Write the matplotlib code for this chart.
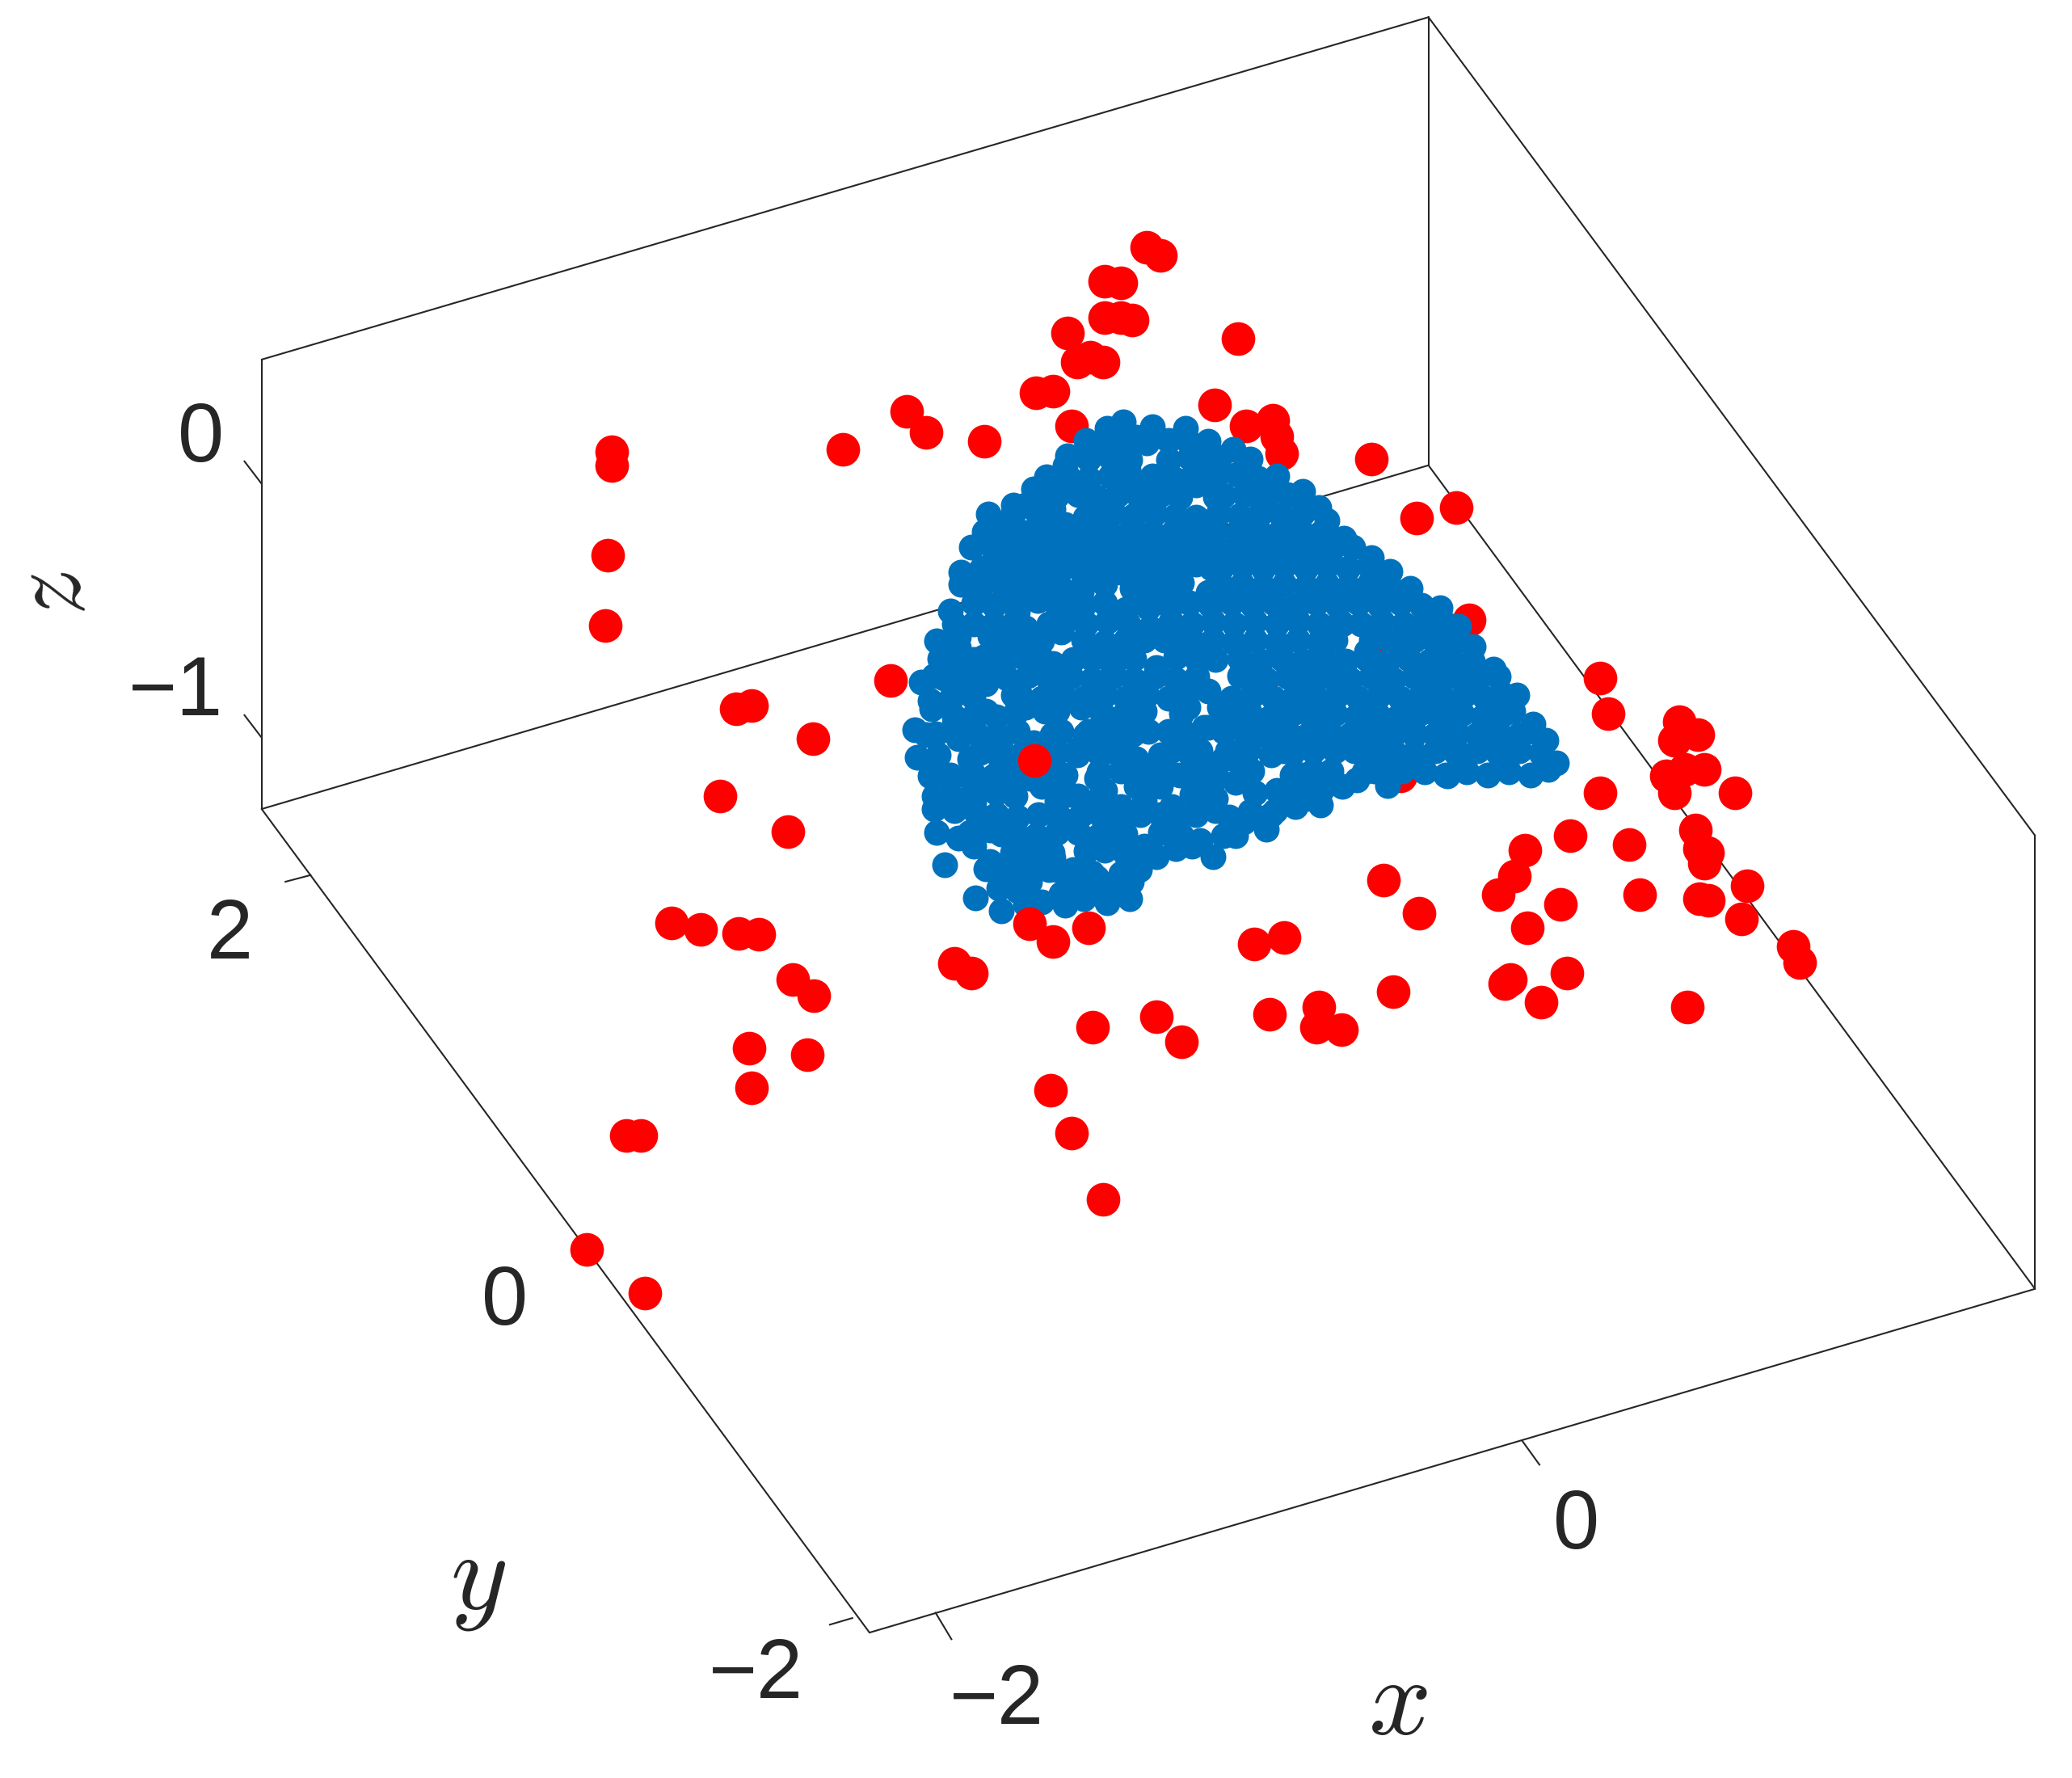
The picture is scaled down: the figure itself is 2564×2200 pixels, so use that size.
import matplotlib
matplotlib.use("Agg")
import matplotlib.pyplot as plt

# Points (projected position in the 1568x1345 view)
red_back = [(868,187),(878,193),(836,213),(848,214),(836,240),(848,240),(857,242),(808,252),(937,256),
 (815,274),(835,274),(825,270),(784,297),(797,296),(686,311),(701,327),(745,334),(638,340),(919,306),
 (811,322),(943,322),(963,318),(966,330),(970,343),(1038,347),(463,342),(463,352),(460,420),(458,473),
 (1072,392),(1102,384),(1112,469),(988,422),(1042,491),(1211,513),(1217,540),(674,515),(557,536),(569,534),
 (615,559),(545,602),(596,629),(980,561),(1060,587),(1271,546),(1285,556),(1267,560),(1261,587),(1275,582),
 (1290,582),(1267,600),(1211,600),(1313,600),(1283,628),(1233,639),(1188,632),(1154,643),(1286,642),
 (1292,645),(1290,653),(1146,663),(1134,677),(1047,666),(1074,691),(1322,670),(1241,677),(1286,680),
 (1293,681),(1181,684),(1156,702),(1318,695),(949,714),(972,709),(508,698),(530,703),(559,706),(574,707),
 (722,729),(735,736),(1357,716),(1362,728),(1186,736),(1143,741),(1139,744),(1054,750),(1166,758),(1277,762),
 (600,741),(616,753),(875,769),(827,777),(894,788),(961,767),(998,762),(996,777),(1015,779),(567,793),
 (611,798),(569,823),(795,825),(811,857),(474,859),(485,859),(835,907),(444,945),(488,978)]
red_front = [(783,575),(779,699),(797,712),(824,702)]

blue_points = [
 (838,324),(850,319),(872,323),(897,324),
 (822,333),(836,335),(853,333),(868,335),(884,333),(900,335),(914,334),
 (808,345),(824,347),(840,346),(855,348),(884,348),(900,346),(916,347),(933,340),(946,347),
 (792,361),(808,360),(824,362),(840,360),(856,362),(872,360),(888,362),(904,360),(920,361),(936,359),(952,362),(966,360),
 (790,372),(800,375),(816,374),(830,376),(846,374),(862,376),(878,374),(893,376),(926,375),(942,374),(958,376),(974,374),(986,372),
 (748,389),(767,382),(785,388),(828,390),(843,388),(858,390),(874,388),(890,390),(922,388),(938,390),(954,388),(970,390),(986,388),(998,384),
 (745,402),(760,400),(776,403),(792,401),(808,406),(824,402),(840,404),(856,401),(872,403),(888,402),(904,403),(920,401),(936,403),(952,401),(968,403),(984,401),(1000,403),(1017,407),
 (735,414),(752,416),(768,414),(784,416),(800,417),(816,415),(832,417),(848,415),(864,417),(880,415),(896,417),(912,415),(928,417),(944,415),(960,417),(976,415),(992,417),(1008,415),(1024,414),(1038,422),
 (727,433),(760,429),(776,428),(792,430),(808,428),(824,430),(840,429),(856,430),(872,428),(888,430),(924,430),(940,428),(956,430),(972,428),(988,430),(1004,428),(1020,430),(1036,428),(1052,432),
 (727,442),(758,441),(770,443),(786,441),(802,443),(820,440),(864,441),(878,443),(894,441),(925,444),(940,442),(956,444),(972,442),(988,444),(1004,442),(1020,444),(1036,442),(1052,444),(1067,445),
 (719,462),(737,456),(752,458),(768,452),(804,456),(820,458),(836,456),(852,461),(868,456),(884,458),(900,456),(916,458),(932,456),(948,458),(964,456),(980,458),(996,456),(1012,458),(1028,456),(1044,458),(1060,456),(1076,458),(1090,460),
 (752,472),(768,470),(806,470),(822,472),(838,470),(854,472),(870,475),(886,470),(902,472),(918,470),(934,472),(950,470),(966,472),(982,470),(998,472),(1014,470),(1030,472),(1046,470),(1062,472),(1078,470),(1094,472),(1104,474),
 (709,485),(725,482),(756,485),(772,483),(788,485),(820,484),(836,486),(852,484),(888,484),(904,486),(918,484),(934,486),(950,484),(966,486),(982,484),(998,486),(1010,484),(1038,484),(1054,486),(1070,484),(1086,486),(1102,484),(1115,489),
 (711,498),(726,500),(744,497),(760,499),(776,497),(790,500),(826,498),(842,500),(858,498),(890,497),(906,499),(938,498),(954,500),(970,498),(986,500),(1002,498),(1018,500),(1034,498),(1050,500),(1066,498),(1082,500),(1098,498),(1114,500),(1130,506),
 (697,516),(714,513),(730,515),(746,511),(762,513),(778,511),(794,514),(810,512),(826,514),(842,512),(858,514),(874,512),(890,514),(906,512),(942,512),(958,514),(974,512),(990,514),(1006,512),(1022,514),(1038,512),(1054,514),(1070,512),(1086,514),(1102,512),(1118,514),(1134,512),(1148,526),
 (704,530),(720,528),(736,527),(772,526),(788,528),(804,526),(820,528),(836,526),(852,528),(868,526),(884,528),(898,526),(932,528),(948,526),(964,528),(980,526),(996,528),(1012,526),(1028,528),(1044,526),(1060,528),(1076,526),(1092,528),(1108,526),(1124,528),(1138,526),
 (705,536),(722,542),(738,540),(754,542),(768,540),(800,538),(834,540),(850,541),(860,539),(894,540),(930,542),(946,540),(962,542),(978,540),(994,542),(1010,540),(1026,542),(1042,540),(1058,542),(1074,540),(1090,542),(1106,540),(1122,542),(1138,540),(1160,548),
 (692,552),(708,555),(738,554),(754,556),(770,553),(796,556),(836,553),(852,555),(884,553),(898,555),(942,554),(958,556),(974,554),(990,556),(1006,554),(1022,556),(1038,554),(1054,556),(1070,554),(1086,556),(1102,554),(1118,556),(1134,554),(1150,556),(1170,560),
 (694,573),(742,569),(758,567),(774,570),(800,569),(816,567),(832,570),(848,568),(886,568),(900,570),(944,568),(978,570),(994,568),(1038,570),(1054,568),(1070,570),(1086,568),(1102,570),(1118,568),(1134,570),(1150,568),(1166,570),(1178,577),
 (704,587),(720,589),(736,585),(752,587),(768,588),(796,590),(832,584),(866,584),(882,582),(905,584),(920,585),(940,582),(978,586),(994,583),(1032,584),(1048,582),(1078,584),(1094,586),(1110,584),(1126,586),(1142,584),(1158,586),(1172,582),
 (707,602),(722,604),(738,600),(754,600),(768,602),(800,606),(816,602),(832,604),(866,606),(906,606),(920,604),(950,600),(966,598),(982,602),(1000,598),(1016,595),(1027,590),(1050,594),(1095,587),
 (707,612),(738,614),(754,616),(770,618),(786,616),(802,618),(818,616),(834,618),(848,616),(878,616),(892,618),(930,618),(946,614),(962,616),(980,610),(999,609),
 (709,630),(734,630),(768,630),(784,632),(800,630),(816,630),(832,632),(846,630),(878,630),(894,632),(908,636),(926,632),(958,627),
 (766,645),(782,647),(796,645),(822,644),(852,646),(875,648),(890,642),(918,648),(935,632),
 (715,654),(746,657),(762,658),(778,660),(794,658),(812,658),(826,660),(862,658),
 (756,672),(770,674),(812,672),(828,674),(842,672),(856,667),
 (738,679),(758,689),(776,684),(806,685),(820,680),(838,683),(855,680),
 (743,430),(914,550),(848,583),(929,568),(710,571),(785,580),(869,553),(725,559),(878,595),(1010,568),(737,472),(914,523),(962,571),(785,454),(1061,583),(920,499),(824,553),(836,442),(806,586),(749,628),(905,427),
 (701,556),(941,622),(767,388),(917,430),(869,460),(770,463),(938,511),(767,526),(722,547),(926,574),(965,613),(725,634),(902,640),(749,652),(860,331),(806,352),(902,361),(1004,394),(806,397),(749,481),(881,484),(1034,493),(737,499),(707,511),(857,556),(1049,556),(1100,562),(1133,562),(797,571),(719,586),(986,586),(830,589),(920,589),(737,595),(788,595),(809,601),(854,355),(782,370),(920,376),(857,445),(893,454),(980,463),(1016,472),(770,496),(842,505),(1001,511),(1097,511),(899,535),(746,538),(791,538),(866,538),(986,538),(1082,538),(1160,553),(821,556),(953,556),(1070,556),(839,568),(971,568),(776,574),(1040,583),(902,601),(989,604),(737,607),(851,631),(773,643),(797,649),(830,664),(803,676),
 (812,499),(743,442),(794,472),(782,562),(1025,568),(863,616),(905,391),(1007,583),(893,586),(935,592),(908,568),(860,574),(866,640),(836,643),(788,682),(803,553),(860,595),(905,616),(803,478),(926,553),(722,613),(797,385),(914,448),(866,484),(875,505),(818,535),(1145,538),(848,661),(722,472),(923,535),(734,574),(758,577),(947,583),(887,610),(737,640),(878,571),(836,598),(779,667),(923,346),(905,367),(821,391),(776,475),(815,571),(848,610),(920,613),(758,631),(818,448),(797,454),(797,502),(776,535),(776,382),(848,433),(725,490),(746,517),(779,589),(911,550),(911,589),(800,658),(908,571)]

tick_labels_z = ["0", "\u22121"]
tick_labels_y = ["2", "0", "\u22122"]
tick_labels_x = ["\u22122", "0"]

# Box edges and tick marks (projected)
box_edges = [((198,272),(1081,13)),((1081,13),(1540,632)),((1540,632),(1540,975)),((198,272),(198,612)),
             ((198,612),(1081,352)),((1081,13),(1081,352)),((1081,352),(1540,975)),((198,612),(658,1235)),
             ((658,1235),(1540,975))]
tick_marks = [((198,366),(185,349)),((198,558),(185,541)),((235,662),(216,667)),((449,947),(433,950)),
              ((645,1224),(628,1229)),((708,1220),(720,1240)),((1152,1090),(1165,1108))]

INK = "#262626"
plt.rcParams["font.family"] = ["Liberation Sans", "DejaVu Sans"]
plt.rcParams["mathtext.fontset"] = "cm"

fig = plt.figure(figsize=(25.64, 22), dpi=100, facecolor="white")
ax = fig.add_axes([0, 0, 1, 1])
ax.set_xlim(0, 1568)
ax.set_ylim(1345, 0)
ax.axis("off")

for (a, b) in box_edges:
    ax.plot([a[0], b[0]], [a[1], b[1]], color=INK, lw=1.5, solid_capstyle="round", zorder=1)
for (a, b) in tick_marks:
    ax.plot([a[0], b[0]], [a[1], b[1]], color=INK, lw=1.5, zorder=1)

def scatter(points, color, size, z):
    ax.scatter([p[0] for p in points], [p[1] for p in points], s=size, c=color, linewidths=0, zorder=z)

scatter(red_back, "#FF0000", 900, 2)
scatter(blue_points, "#0072BD", 530, 3)
scatter(red_front, "#FF0000", 900, 4)

fs = 74
for lab, pos in zip(tick_labels_z, [(152,333),(133,525)]):
    ax.text(pos[0], pos[1], lab, fontsize=fs, color=INK, ha="center", va="center")
for lab, pos in zip(tick_labels_y, [(174,709),(382,986),(572,1268)]):
    ax.text(pos[0], pos[1], lab, fontsize=fs, color=INK, ha="center", va="center")
for lab, pos in zip(tick_labels_x, [(754,1288),(1193,1155)]):
    ax.text(pos[0], pos[1], lab, fontsize=fs, color=INK, ha="center", va="center")

ax.text(1058, 1290, "$x$", fontsize=98, color=INK, ha="center", va="center")
ax.text(362, 1197, "$y$", fontsize=98, color=INK, ha="center", va="center")
ax.text(42, 450, "$z$", fontsize=92, color=INK, ha="center", va="center", rotation=100)

fig.savefig("out.png", dpi=100, facecolor="white")
